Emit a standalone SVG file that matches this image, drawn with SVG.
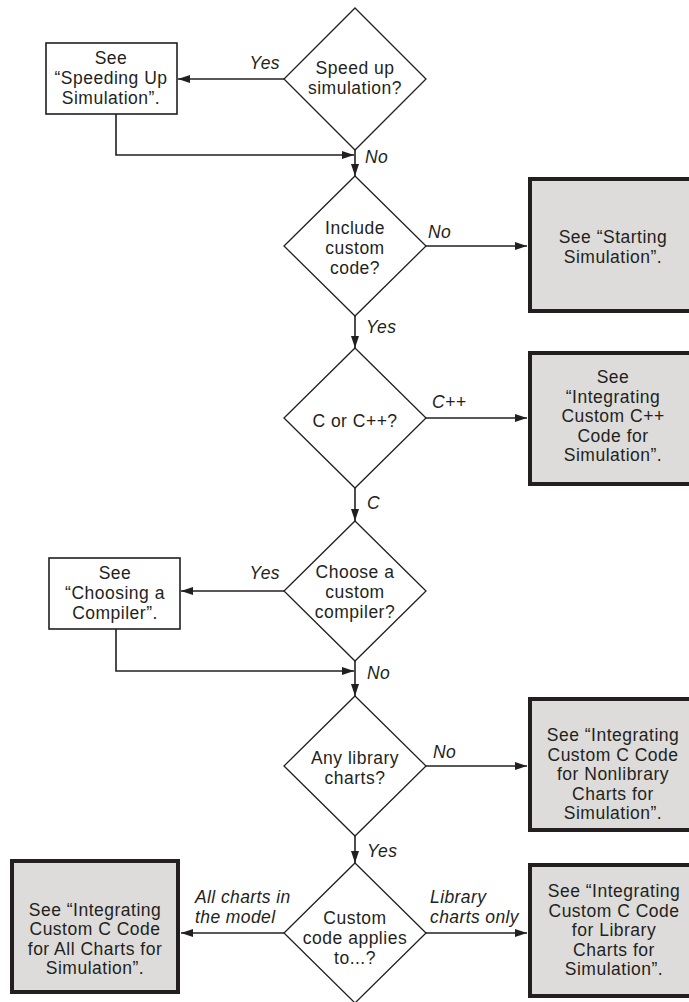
<svg xmlns="http://www.w3.org/2000/svg" width="689" height="1002" viewBox="0 0 689 1002">
<style>
.bg{fill:#ffffff}
.dia{fill:#ffffff;stroke:#231f20;stroke-width:1.3}
.box{fill:#ffffff;stroke:#231f20;stroke-width:1.6}
.gbox{fill:#dddcda;stroke:#231f20;stroke-width:4}
.t{font-family:"Liberation Sans",Arial,sans-serif;font-size:17.5px;fill:#231f20;text-anchor:middle;letter-spacing:0.5px}
.l{font-family:"Liberation Sans",Arial,sans-serif;font-size:17.5px;font-style:italic;fill:#231f20;letter-spacing:0.4px}
.e{text-anchor:end}
.c{fill:none;stroke:#231f20;stroke-width:1.6}
</style>
<defs>
<marker id="ah" markerUnits="userSpaceOnUse" markerWidth="13" markerHeight="9" refX="12" refY="4" orient="auto">
<path d="M0,0 L12,4 L0,8 z" fill="#231f20"/>
</marker>
</defs>
<rect class="bg" x="0" y="0" width="689" height="1002"/>
<g id="connectors">
<path class="c" d="M284,79 H178" marker-end="url(#ah)"/>
<path class="c" d="M116,114 V155 H354" marker-end="url(#ah)"/>
<path class="c" d="M355,150 V176" marker-end="url(#ah)"/>
<path class="c" d="M426,246 H527" marker-end="url(#ah)"/>
<path class="c" d="M355,316 V348" marker-end="url(#ah)"/>
<path class="c" d="M426,418 H527" marker-end="url(#ah)"/>
<path class="c" d="M355,488 V521" marker-end="url(#ah)"/>
<path class="c" d="M284,591 H181" marker-end="url(#ah)"/>
<path class="c" d="M116,629 V671 H354" marker-end="url(#ah)"/>
<path class="c" d="M355,661 V696" marker-end="url(#ah)"/>
<path class="c" d="M426,766 H527" marker-end="url(#ah)"/>
<path class="c" d="M355,836 V863" marker-end="url(#ah)"/>
<path class="c" d="M284,933 H181" marker-end="url(#ah)"/>
<path class="c" d="M426,933 H527" marker-end="url(#ah)"/>
<text class="l e" x="280" y="69">Yes</text>
<text class="l" x="365" y="163">No</text>
<text class="l" x="428" y="238">No</text>
<text class="l" x="366" y="333">Yes</text>
<text class="l" x="432" y="408">C++</text>
<text class="l" x="367" y="509">C</text>
<text class="l e" x="280" y="579">Yes</text>
<text class="l" x="367" y="679">No</text>
<text class="l" x="433" y="758">No</text>
<text class="l" x="367" y="857">Yes</text>
<text class="l" x="195" y="903">All charts in</text>
<text class="l" x="195" y="923">the model</text>
<text class="l" x="430" y="903">Library</text>
<text class="l" x="430" y="923">charts only</text>
</g>
<g id="d1">
<polygon class="dia" points="355,8 426,79 355,150 284,79"/>
<text class="t" x="355" y="74">Speed up</text>
<text class="t" x="355" y="94">simulation?</text>
</g>
<g id="b1">
<rect class="box" x="46" y="43" width="131" height="71"/>
<text class="t" x="111" y="64">See</text>
<text class="t" x="111" y="84">“Speeding Up</text>
<text class="t" x="111" y="103.5">Simulation”.</text>
</g>
<g id="d2">
<polygon class="dia" points="355,176 426,246 355,316 284,246"/>
<text class="t" x="355" y="234">Include</text>
<text class="t" x="355" y="254">custom</text>
<text class="t" x="355" y="273.5">code?</text>
</g>
<g id="b2">
<rect class="gbox" x="530" y="179" width="200" height="132"/>
<text class="t" x="613" y="243">See “Starting</text>
<text class="t" x="613" y="263">Simulation”.</text>
</g>
<g id="d3">
<polygon class="dia" points="355,348 426,418 355,488 284,418"/>
<text class="t" x="355" y="427">C or C++?</text>
</g>
<g id="b3">
<rect class="gbox" x="530" y="353" width="200" height="131"/>
<text class="t" x="613" y="383">See</text>
<text class="t" x="613" y="402.5">“Integrating</text>
<text class="t" x="613" y="422">Custom C++</text>
<text class="t" x="613" y="441.5">Code for</text>
<text class="t" x="613" y="461">Simulation”.</text>
</g>
<g id="d4">
<polygon class="dia" points="355,521 426,591 355,661 284,591"/>
<text class="t" x="355" y="578">Choose a</text>
<text class="t" x="355" y="598">custom</text>
<text class="t" x="355" y="618">compiler?</text>
</g>
<g id="b4">
<rect class="box" x="49" y="558" width="131" height="71"/>
<text class="t" x="115" y="579">See</text>
<text class="t" x="115" y="599">“Choosing a</text>
<text class="t" x="115" y="618.5">Compiler”.</text>
</g>
<g id="d5">
<polygon class="dia" points="355,696 426,766 355,836 284,766"/>
<text class="t" x="355" y="764">Any library</text>
<text class="t" x="355" y="783.5">charts?</text>
</g>
<g id="b5">
<rect class="gbox" x="530" y="699" width="200" height="131"/>
<text class="t" x="613" y="741">See “Integrating</text>
<text class="t" x="613" y="760.5">Custom C Code</text>
<text class="t" x="613" y="780">for Nonlibrary</text>
<text class="t" x="613" y="799.5">Charts for</text>
<text class="t" x="613" y="819">Simulation”.</text>
</g>
<g id="d6">
<polygon class="dia" points="355,863 426,933 355,1003 284,933"/>
<text class="t" x="355" y="924">Custom</text>
<text class="t" x="355" y="944">code applies</text>
<text class="t" x="355" y="964">to...?</text>
</g>
<g id="b6">
<rect class="gbox" x="12" y="861" width="166" height="131"/>
<text class="t" x="95" y="915.5">See “Integrating</text>
<text class="t" x="95" y="935">Custom C Code</text>
<text class="t" x="95" y="954.5">for All Charts for</text>
<text class="t" x="95" y="974">Simulation”.</text>
</g>
<g id="b7">
<rect class="gbox" x="530" y="865" width="200" height="131"/>
<text class="t" x="614" y="897">See “Integrating</text>
<text class="t" x="614" y="916.5">Custom C Code</text>
<text class="t" x="614" y="936">for Library</text>
<text class="t" x="614" y="955.5">Charts for</text>
<text class="t" x="614" y="975">Simulation”.</text>
</g>
</svg>
